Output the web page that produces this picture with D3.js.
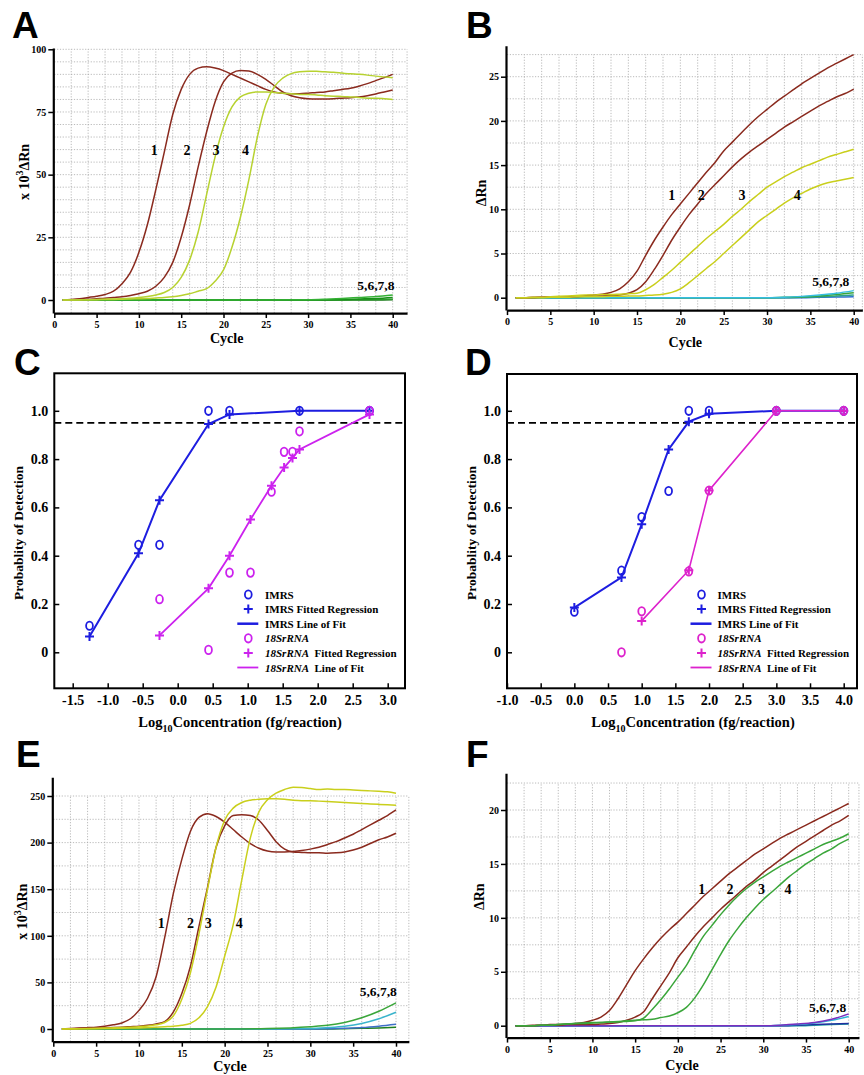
<!DOCTYPE html>
<html>
<head>
<meta charset="utf-8">
<script src="https://cdn.jsdelivr.net/npm/d3@7"></script>
<style>
  body { margin: 0; background: #fff; }
  text { font-family: "Liberation Serif", "Times New Roman", serif; font-weight: bold; }
</style>
</head>
<body>
<svg id="fig" width="864" height="1075"></svg>
<script>
// ---- data ----
var cycles = d3.range(1, 41);
var cycleTicks = [0, 5, 10, 15, 20, 25, 30, 35, 40];
var negCycles = [1, 5, 10, 15, 20, 25, 30, 32, 34, 36, 38, 40];

// panel A (x10^3 dRn)
var aCurve1 = [0,0.2,0.5,1,1.5,2.2,3.5,6.5,11,19,30,44,59,74,84,90,92.5,93,92.5,91.5,90,88.5,87,85.5,84,83,82.5,82.3,82.3,82.5,82.8,83,83.5,84,84.5,85.3,86.3,87.5,88.7,90];
var aCurve2 = [0,0.1,0.2,0.3,0.5,0.7,1,1.3,1.8,2.5,3.5,5.5,9,15,25,38,53,67,79,87,90.5,91.5,91.3,90,88,85.5,83,81.5,80.7,80.3,80.2,80.2,80.3,80.5,80.7,81,81.5,82.2,83,83.8];
var aCurve3 = [0,0,0.1,0.1,0.2,0.3,0.4,0.5,0.7,1,1.4,2,3,5,9,16,27,42,57,69,77,81,82.5,83,83,82.8,82.5,82.3,82,82,81.8,81.5,81.3,81.2,81,80.8,80.5,80.5,80.3,80];
var aCurve4 = [0,0,0,0.1,0.1,0.2,0.2,0.3,0.4,0.5,0.6,0.8,1,1.3,1.8,2.5,3.5,4.5,7.5,12,21,33,48,65,78,85,88.5,90.3,91,91.2,91.2,91,90.8,90.5,90.2,90,89.7,89.3,89,88.7];
var aNeg5 = [0,0,0,0,0,0,0.1,0.3,0.6,1,1.4,2];
var aNeg6 = [0,0,0,0,0,0,0,0.1,0.2,0.4,0.6,1];
var aNeg7 = [0,0,0,0,0,0,0,0,0,0.1,0.2,0.3];
var aNeg8 = [0,0,0,0,0,0,0,0,0,0,0,0.1];

// panel B (dRn)
var bCurve1 = [0,0,0.05,0.05,0.1,0.1,0.1,0.15,0.2,0.3,0.4,0.6,1,1.8,3,4.8,6.5,8,9.4,10.6,11.8,13,14.2,15.3,16.6,17.6,18.6,19.6,20.5,21.3,22.1,22.8,23.5,24.2,24.8,25.4,26,26.5,27,27.5];
var bCurve2 = [0,0,0,0.05,0.05,0.1,0.1,0.1,0.15,0.15,0.2,0.25,0.3,0.5,0.9,1.8,3.2,4.8,6.5,8,9.4,10.6,11.8,12.8,13.8,14.8,15.7,16.5,17.2,17.9,18.6,19.3,19.9,20.5,21.1,21.7,22.2,22.7,23.1,23.6];
var bCurve3 = [0,0,0.05,0.05,0.1,0.15,0.2,0.25,0.3,0.3,0.35,0.35,0.4,0.45,0.5,0.9,1.5,2.3,3.1,4,4.9,5.8,6.7,7.5,8.3,9.2,10,10.9,11.7,12.5,13.1,13.7,14.2,14.7,15.1,15.5,15.9,16.2,16.5,16.8];
var bCurve4 = [0,0,0,0,0.05,0.05,0.05,0.1,0.1,0.1,0.1,0.15,0.15,0.2,0.2,0.25,0.3,0.4,0.6,1,1.7,2.5,3.3,4.1,5,5.9,6.8,7.7,8.6,9.3,10,10.7,11.3,11.8,12.3,12.7,13,13.2,13.4,13.6];
var bNeg5 = [0,0,0,0,0,0,0,0.05,0.15,0.3,0.5,0.8];
var bNeg6 = [0,0,0,0,0,0,0,0.05,0.1,0.2,0.35,0.55];
var bNeg7 = [0,0,0,0,0,0,0,0,0.05,0.1,0.2,0.3];
var bNeg8 = [0,0,0,0,0,0,0,0,0,0.05,0.08,0.1];

// panel C (probability of detection)
var cImrsLog = [-1.26, -0.56, -0.26, 0.44, 0.74, 1.74, 2.74];
var cImrsObs = [0.11, 0.445, 0.445, 1.0, 1.0, 1.0, 1.0];
var cImrsFit = [0.065, 0.41, 0.63, 0.945, 0.985, 1.0, 1.0];
var cRnaLog = [-0.26, 0.44, 0.74, 1.04, 1.34, 1.52, 1.64, 1.74, 2.74];
var cRnaObs = [0.22, 0.01, 0.33, 0.33, 0.665, 0.83, 0.83, 0.915, 1.0];
var cRnaFit = [0.07, 0.265, 0.40, 0.55, 0.69, 0.765, 0.805, 0.84, 0.985];
var cTicks = [-1.5, -1.0, -0.5, 0, 0.5, 1.0, 1.5, 2.0, 2.5, 3.0];

// panel D
var dImrsLog = [0, 0.7, 1.0, 1.4, 1.7, 2.0, 3.0, 4.0];
var dImrsObs = [0.168, 0.338, 0.56, 0.668, 1.0, 1.0, 1.0, 1.0];
var dImrsFit = [0.185, 0.31, 0.53, 0.84, 0.955, 0.988, 1.0, 1.0];
var dRnaObsLog = [0.7, 1.0, 1.7, 2.0, 3.0, 4.0];
var dRnaObs = [0, 0.17, 0.335, 0.67, 1.0, 1.0];
var dRnaFitLog = [1.0, 1.7, 2.0, 3.0, 4.0];
var dRnaFit = [0.13, 0.34, 0.67, 1.0, 1.0];
var dTicks = [-1.0, -0.5, 0, 0.5, 1.0, 1.5, 2.0, 2.5, 3.0, 3.5, 4.0];
var probTicks = [0, 0.2, 0.4, 0.6, 0.8, 1.0];
var lodLevel = 0.95;

// panel E (x10^3 dRn)
var eCurve1 = [0,0.5,1,1.5,2,3,4.5,6.5,11,20,33,56,98,145,182,212,227,231,228,222,214,206,199,194,191,190,190,190.5,191.5,193,195,198,201,205,209,214,219,224,229,235];
var eCurve2 = [0,0.3,0.5,0.8,1,1.3,1.6,2,2.5,3,4,5.5,8,18,38,67,110,152,195,218,229,230,229,224,213,201,193,190,189.5,189,189,188.5,189,190,192,195,199,203,206,210];
var eCurve3 = [0,0.2,0.4,0.6,0.8,1,1.3,1.6,2,2.5,3.2,4.5,7,14,32,60,102,150,195,224,237,243,245.5,246.5,247,247,246.5,245.5,245,245,244.5,244,243.5,243,242.5,242,241.5,241,240.5,240];
var eCurve4 = [0,0,0.2,0.3,0.4,0.5,0.6,0.8,1,1.2,1.5,2,2.5,3,4,6,12,24,45,78,112,160,205,233,246,253,257,259.5,259,258,257,257.5,257,257,256.5,256,255.5,255,254.5,253];
var eNeg5 = [0,0,0,0,0,0.5,2.5,4,7,12,19,28];
var eNeg6 = [0,0,0,0,0,0,0.5,1.5,3,6,11,18];
var eNeg7 = [0,0,0,0,0,0,0,0.3,0.8,1.5,3,5];
var eNeg8 = [0,0,0,0,0,0,0,0,0.3,0.7,1.2,2];

// panel F (dRn)
var fCurve1 = [0,0,0.05,0.05,0.1,0.1,0.15,0.2,0.3,0.5,0.8,1.4,2.5,3.8,5.1,6.2,7.2,8.1,8.9,9.6,10.4,11.2,12,12.7,13.4,14.1,14.7,15.3,15.9,16.4,16.9,17.4,17.8,18.2,18.6,19,19.4,19.8,20.2,20.6];
var fCurve2 = [0,0,0,0.05,0.05,0.05,0.1,0.1,0.1,0.1,0.15,0.2,0.3,0.5,0.8,1.3,2.5,3.7,4.9,6.3,7.3,8.3,9.2,10,10.8,11.5,12.2,12.9,13.5,14.2,14.8,15.4,16,16.6,17.1,17.6,18.1,18.6,19,19.5];
var fCurve3 = [0,0,0,0.05,0.05,0.1,0.15,0.2,0.25,0.3,0.3,0.35,0.35,0.4,0.45,0.7,1.5,2.4,3.4,4.5,5.6,7,8.3,9.3,10.3,11.2,12,12.7,13.3,13.8,14.3,14.8,15.2,15.6,16,16.4,16.8,17.1,17.4,17.8];
var fCurve4 = [0,0,0,0.05,0.05,0.1,0.15,0.2,0.2,0.25,0.3,0.35,0.4,0.45,0.5,0.55,0.6,0.75,0.9,1.2,1.7,2.6,3.8,5.2,6.6,7.9,9,10,10.9,11.7,12.4,13.1,13.8,14.4,15,15.5,16,16.4,16.9,17.3];
var fNeg5 = [0,0,0,0,0,0,0,0.05,0.15,0.3,0.6,1.1];
var fNeg6 = [0,0,0,0,0,0,0,0.05,0.1,0.25,0.5,0.85];
var fNeg7 = [0,0,0,0,0,0,0,0,0.05,0.1,0.15,0.2];
var fNeg8 = [0,0,0,0,0,0,0,0,0,0.05,0.1,0.15];

var curveLabels = ['1', '2', '3', '4'];
var negLabel = '5,6,7,8';

// ---- colours ----
var brown = '#8a2a1e', lime = '#b7d230', yellow = '#c9cf1c', green = '#3aa63a';
var blue = '#1d1de0';

var svg = d3.select('#fig');
var serif = '"Liberation Serif", "Times New Roman", serif';

function panelLetter(t, x, y) {
  svg.append('text').attr('x', x).attr('y', y).text(t)
    .style('font-family', '"Liberation Sans", Arial, sans-serif')
    .style('font-size', '37px').style('font-weight', 'bold');
}

// amplification plot
function qpcr(p) {
  var x = d3.scaleLinear().domain([0, 40]).range([p.x0, p.x40]);
  var y = d3.scaleLinear().domain([0, p.yRef]).range([p.y0, p.yRefPx]);
  var g = svg.append('g');
  var left = x(0), right = x(p.xMax), bottom = y(p.yMin), top = y(p.yMax);

  // dotted grid
  var grid = g.append('g').attr('stroke', '#a8a8a8').attr('stroke-width', 0.8)
    .attr('stroke-dasharray', '1.2,1.6');
  grid.selectAll('.v').data(d3.range(2, 41, 2).concat([p.xMax])).enter().append('line')
    .attr('x1', d => x(d)).attr('x2', d => x(d))
    .attr('y1', bottom).attr('y2', y(p.gridTop));
  grid.selectAll('.h').data(d3.range(p.gridStep, p.gridTop + 1e-6, p.gridStep)).enter().append('line')
    .attr('x1', left).attr('x2', right)
    .attr('y1', d => y(d)).attr('y2', d => y(d));

  // axes
  var xa = d3.scaleLinear().domain([0, p.xMax]).range([left, right]);
  var ya = d3.scaleLinear().domain([p.yMin, p.yMax]).range([bottom, top]);
  var gx = g.append('g').attr('transform', 'translate(0,' + bottom + ')')
    .call(d3.axisBottom(xa).tickValues(cycleTicks).tickSize(5).tickSizeOuter(0).tickPadding(3));
  var gy = g.append('g').attr('transform', 'translate(' + (left - 1) + ',0)')
    .call(d3.axisLeft(ya).tickValues(p.yTicks).tickSize(5).tickSizeOuter(0).tickPadding(2));
  [gx, gy].forEach(function(a) {
    a.select('.domain').attr('stroke-width', 2.2);
    a.selectAll('.tick line').attr('stroke-width', 1.5);
    a.selectAll('.tick text').style('font-size', '10px').style('font-family', serif).style('font-weight', 'bold');
  });

  // curves
  var line = d3.line().x((d, i) => x(cycles[i])).y(d => y(d)).curve(d3.curveMonotoneX);
  var negLine = d3.line().x((d, i) => x(negCycles[i])).y(d => y(d)).curve(d3.curveMonotoneX);
  p.neg.forEach(function(s, i) {
    g.append('path').attr('d', negLine(s)).attr('fill', 'none')
      .attr('stroke', p.negColors[i]).attr('stroke-width', 1.5);
  });
  p.curves.forEach(function(s, i) {
    g.append('path').attr('d', line(s)).attr('fill', 'none')
      .attr('stroke', p.colors[i]).attr('stroke-width', 1.5);
  });

  // curve labels
  curveLabels.forEach(function(t, i) {
    g.append('text').attr('x', x(p.labelX[i])).attr('y', y(p.labelY))
      .attr('text-anchor', 'middle').style('font-size', '14px').text(t);
  });
  g.append('text').attr('x', x(p.negLabelPos[0])).attr('y', y(p.negLabelPos[1]))
    .attr('text-anchor', 'end').style('font-size', '13.5px').text(negLabel);

  // titles
  g.append('text').attr('x', p.xTitle[0]).attr('y', p.xTitle[1])
    .attr('text-anchor', 'middle').style('font-size', '14px').text('Cycle');
  var yt = g.append('text').attr('transform', 'translate(' + p.yTitle[0] + ',' + p.yTitle[1] + ') rotate(-90)')
    .attr('text-anchor', 'middle').style('font-size', '14px');
  if (p.scaled) {
    yt.append('tspan').text('x 10');
    yt.append('tspan').attr('dy', -6).style('font-size', '10px').text('3');
    yt.append('tspan').attr('dy', 6).text('\u0394Rn');
  } else {
    yt.text('\u0394Rn');
  }
}

// probability of detection plot
function prob(p) {
  var x = d3.scaleLinear().domain([p.ticks[0], p.ticks[p.ticks.length - 1]]).range(p.xRange);
  var y = d3.scaleLinear().domain([0, 1]).range([652.3, 410.8]);
  var f = p.frame;
  var g = svg.append('g');

  var gx = g.append('g').attr('transform', 'translate(0,' + f[3] + ')')
    .call(d3.axisBottom(x).tickValues(p.ticks).tickSize(-5).tickSizeOuter(0).tickPadding(7)
      .tickFormat(d => d.toFixed(1)));
  var gy = g.append('g').attr('transform', 'translate(' + f[0] + ',0)')
    .call(d3.axisLeft(y).tickValues(probTicks).tickSize(-5).tickSizeOuter(0).tickPadding(6)
      .tickFormat(d => d === 0 ? '0' : d.toFixed(1)));
  [gx, gy].forEach(function(a) {
    a.select('.domain').remove();
    a.selectAll('.tick line').attr('stroke-width', 1.5);
    a.selectAll('.tick text').style('font-size', '14px').style('font-family', serif).style('font-weight', 'bold');
  });
  g.append('rect').attr('x', f[0]).attr('y', f[1]).attr('width', f[2] - f[0]).attr('height', f[3] - f[1])
    .attr('fill', 'none').attr('stroke', '#000').attr('stroke-width', 2);

  g.append('line').attr('x1', f[0]).attr('x2', f[2]).attr('y1', y(lodLevel)).attr('y2', y(lodLevel))
    .attr('stroke', '#000').attr('stroke-width', 1.6).attr('stroke-dasharray', '7,4');

  var line = d3.line().x(d => x(d[0])).y(d => y(d[1]));
  var plus = function(sel, color) {
    sel.append('path').attr('d', 'M-4.5,0H4.5M0,-4.5V4.5').attr('stroke', color)
      .attr('stroke-width', 2).attr('fill', 'none');
  };
  var ring = function(sel, color) {
    sel.append('ellipse').attr('rx', 3.4).attr('ry', 4.2).attr('fill', 'none')
      .attr('stroke', color).attr('stroke-width', 1.8);
  };

  p.series.forEach(function(s) {
    var fit = s.fitX.map((v, i) => [v, s.fit[i]]);
    var obs = s.obsX.map((v, i) => [v, s.obs[i]]);
    g.append('path').attr('d', line(fit)).attr('fill', 'none').attr('stroke', s.color).attr('stroke-width', s.width);
    fit.forEach(function(d) {
      plus(g.append('g').attr('transform', 'translate(' + x(d[0]) + ',' + y(d[1]) + ')'), s.color);
    });
    obs.forEach(function(d) {
      ring(g.append('g').attr('transform', 'translate(' + x(d[0]) + ',' + y(d[1]) + ')'), s.color);
    });
  });

  // legend
  var L = p.legend;
  var rows = [
    { kind: 'ring', s: 0, name: 'IMRS', rest: '' },
    { kind: 'plus', s: 0, name: 'IMRS', rest: ' Fitted Regression' },
    { kind: 'line', s: 0, name: 'IMRS', rest: ' Line of Fit' },
    { kind: 'ring', s: 1, name: '18SrRNA', rest: '' },
    { kind: 'plus', s: 1, name: '18SrRNA', rest: '  Fitted Regression' },
    { kind: 'line', s: 1, name: '18SrRNA', rest: '  Line of Fit' }
  ];
  rows.forEach(function(r, i) {
    var yy = L.y + i * 14.6;
    var c = p.series[r.s].color;
    if (r.kind === 'line') {
      g.append('line').attr('x1', L.sym - 11).attr('x2', L.sym + 10).attr('y1', yy).attr('y2', yy)
        .attr('stroke', c).attr('stroke-width', r.s === 0 ? 2.5 : 1.8);
    } else {
      var sg = g.append('g').attr('transform', 'translate(' + L.sym + ',' + yy + ')');
      if (r.kind === 'ring') ring(sg, c); else plus(sg, c);
    }
    var t = g.append('text').attr('x', L.text).attr('y', yy + 4).style('font-size', '11px');
    t.append('tspan').style('font-style', r.s === 1 ? 'italic' : 'normal').text(r.name);
    if (r.rest) t.append('tspan').attr('xml:space', 'preserve').text(r.rest);
  });

  g.append('text').attr('transform', 'translate(' + p.yTitle[0] + ',' + p.yTitle[1] + ') rotate(-90)')
    .attr('text-anchor', 'middle').style('font-size', '13.5px').text('Probablity of Detection');
  var xt = g.append('text').attr('x', p.xTitleX).attr('y', 727).attr('text-anchor', 'middle').style('font-size', '14.5px');
  xt.append('tspan').text('Log');
  xt.append('tspan').attr('dy', 5).style('font-size', '10px').text('10');
  xt.append('tspan').attr('dy', -5).text('Concentration (fg/reaction)');
}

// ---- panels ----
panelLetter('A', 12, 38);
qpcr({
  x0: 54.3, x40: 392.7, xMax: 41.7, y0: 300, yRef: 100, yRefPx: 49.3, yMin: -5.2, yMax: 100.5,
  yTicks: [0, 25, 50, 75, 100], gridStep: 5, gridTop: 100,
  curves: [aCurve1, aCurve2, aCurve3, aCurve4], colors: [brown, brown, lime, lime],
  neg: [aNeg8, aNeg7, aNeg6, aNeg5], negColors: ['#1d7a1d', '#2c9a2c', '#179017', '#35b035'],
  labelX: [11.8, 15.7, 19.1, 22.6], labelY: 58, negLabelPos: [40.2, 4],
  xTitle: [226.7, 343], yTitle: [29, 172], scaled: true
});

panelLetter('B', 466, 38);
qpcr({
  x0: 507, x40: 853.7, xMax: 41.0, y0: 297.7, yRef: 25, yRefPx: 76.7, yMin: -1.4, yMax: 28.5,
  yTicks: [0, 5, 10, 15, 20, 25], gridStep: 2.5, gridTop: 27.5,
  curves: [bCurve1, bCurve2, bCurve3, bCurve4], colors: [brown, brown, yellow, yellow],
  neg: [bNeg8, bNeg7, bNeg6, bNeg5], negColors: ['#2f6fd0', '#2aa08a', '#3aa63a', '#35bde0'],
  labelX: [19.0, 22.4, 27.1, 33.5], labelY: 11.05, negLabelPos: [39.5, 1.3],
  xTitle: [685.3, 347], yTitle: [486, 193], scaled: false
});

panelLetter('C', 14, 375);
prob({
  ticks: cTicks, xRange: [72.7, 387.7], frame: [54.3, 373.3, 405, 688.3],
  series: [
    { color: blue, width: 2, obsX: cImrsLog, obs: cImrsObs, fitX: cImrsLog, fit: cImrsFit },
    { color: '#cc22ee', width: 1.8, obsX: cRnaLog, obs: cRnaObs, fitX: cRnaLog, fit: cRnaFit }
  ],
  legend: { sym: 248.3, text: 265, y: 594.5 },
  yTitle: [23, 533], xTitleX: 240
});

panelLetter('D', 465, 375);
prob({
  ticks: dTicks, xRange: [507, 843.7], frame: [507, 374, 857, 688.3],
  series: [
    { color: blue, width: 2, obsX: dImrsLog, obs: dImrsObs, fitX: dImrsLog, fit: dImrsFit },
    { color: '#dd22cc', width: 1.6, obsX: dRnaObsLog, obs: dRnaObs, fitX: dRnaFitLog, fit: dRnaFit }
  ],
  legend: { sym: 701.5, text: 717.5, y: 594.5 },
  yTitle: [476, 533], xTitleX: 693
});

panelLetter('E', 16, 767);
qpcr({
  x0: 53.3, x40: 396, xMax: 41.5, y0: 1029, yRef: 250, yRefPx: 796, yMin: -13.6, yMax: 270,
  yTicks: [0, 50, 100, 150, 200, 250], gridStep: 25, gridTop: 250,
  curves: [eCurve1, eCurve2, eCurve3, eCurve4], colors: [brown, brown, yellow, yellow],
  neg: [eNeg8, eNeg7, eNeg6, eNeg5], negColors: ['#1f7f1f', '#3f6fc8', '#3ab4cc', '#3aa63a'],
  labelX: [12.6, 16.0, 18.1, 21.7], labelY: 108, negLabelPos: [40.1, 35],
  xTitle: [230, 1071], yTitle: [27, 911.7], scaled: true
});

panelLetter('F', 466, 767);
qpcr({
  x0: 507, x40: 848.7, xMax: 41.2, y0: 1025.7, yRef: 20, yRefPx: 810, yMin: -1.1, yMax: 23.4,
  yTicks: [0, 5, 10, 15, 20], gridStep: 2.5, gridTop: 22.5,
  curves: [fCurve1, fCurve2, fCurve3, fCurve4], colors: [brown, brown, green, green],
  neg: [fNeg8, fNeg7, fNeg6, fNeg5], negColors: ['#20a0a0', '#1f2f9f', '#2bb0d6', '#7b2fbe'],
  labelX: [22.8, 26.1, 29.8, 32.9], labelY: 12.2, negLabelPos: [39.7, 1.3],
  xTitle: [682, 1070], yTitle: [484, 896.7], scaled: false
});
</script>
</body>
</html>
